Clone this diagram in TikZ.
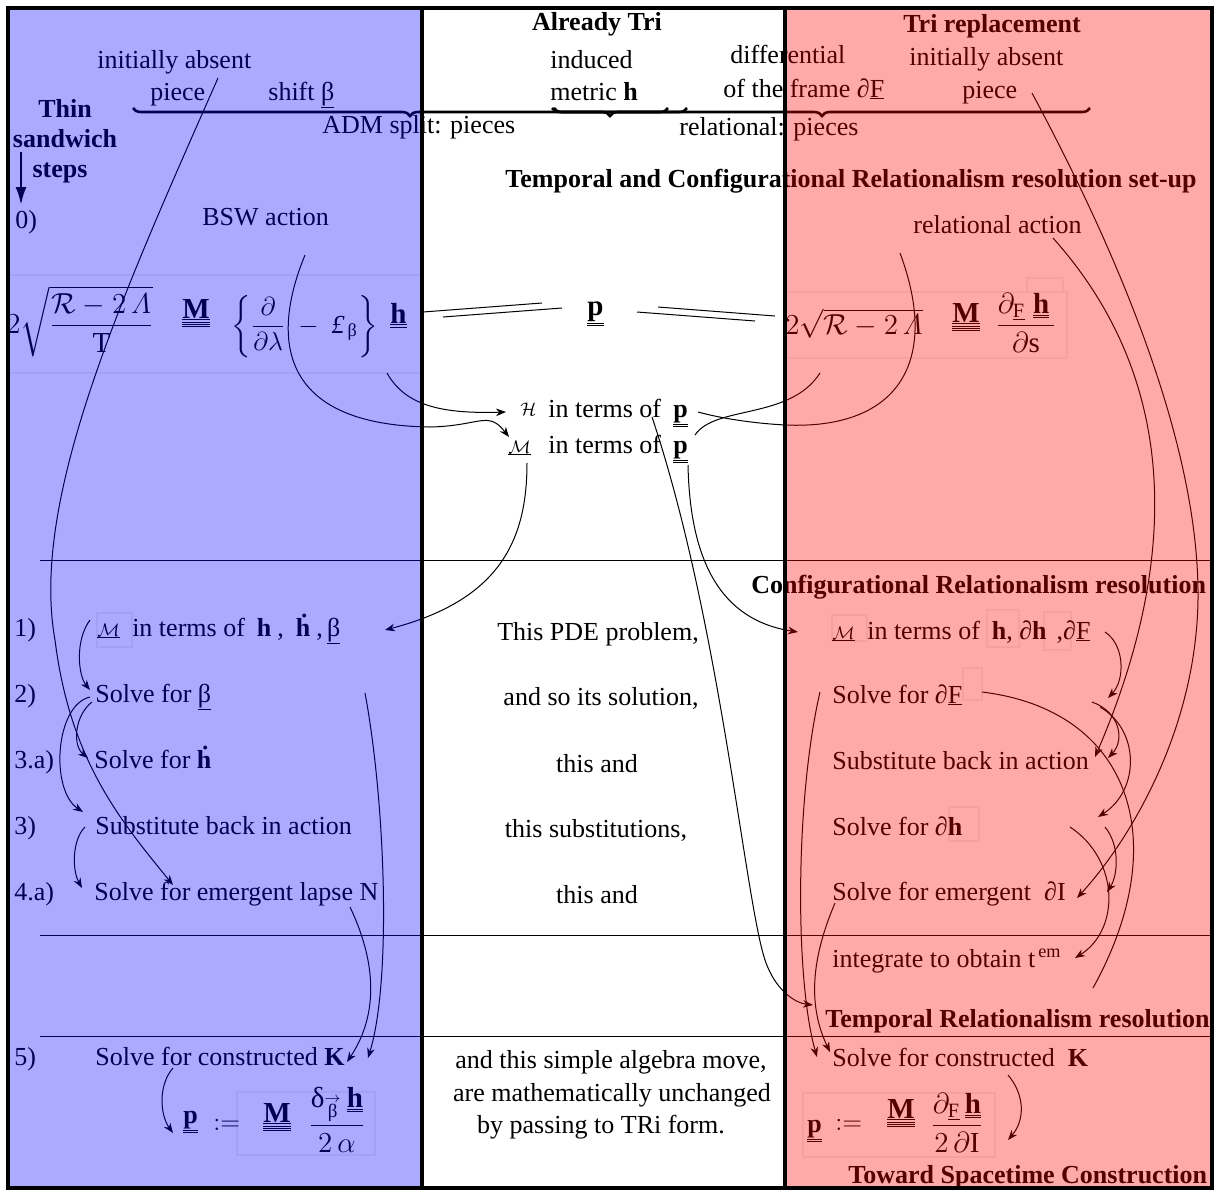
\RequirePackage{fix-cm}
\documentclass[tikz,border=0pt]{standalone}
\usepackage{amsmath,amssymb}
\usepackage{fontspec}
\setmainfont{Liberation Serif}
\usetikzlibrary{arrows.meta,decorations.pathreplacing}
\newcommand{\ulone}[1]{\vtop{\hbox{#1}\kern0.7pt\hrule height0.45pt}}
\newcommand{\ultwo}[1]{\vtop{\hbox{#1}\kern0.7pt\hrule height0.45pt\kern0.7pt\hrule height0.45pt}}
\newcommand{\ulfour}[1]{\vtop{\hbox{#1}\kern0.7pt\hrule height0.45pt\kern0.6pt\hrule height0.45pt\kern0.6pt\hrule height0.45pt\kern0.6pt\hrule height0.45pt}}
\newcommand{\tensh}{\ultwo{$\mathbf{h}$}}
\newcommand{\tensp}{\ultwo{$\mathbf{p}$}}
\newcommand{\tensM}{\ulfour{$\mathbf{M}$}}
\newcommand{\smallM}{\ulone{$\scriptstyle\mathcal{M}$}}
\newcommand{\vecbeta}{\vbox{\offinterlineskip\halign{\hfil##\hfil\cr$\scriptscriptstyle\rightarrow$\cr\noalign{\kern0.8pt}\fontsize{9.5}{10}\selectfont β\cr}}}
\tikzset{
  txt/.style={anchor=base west, inner sep=0pt},
  ctr/.style={anchor=base, inner sep=0pt},
  head/.style={txt, font=\fontsize{13}{15}\selectfont\bfseries},
  headc/.style={ctr, font=\fontsize{13}{15}\selectfont\bfseries},
  formula/.style={txt, font=\fontsize{14.5}{17}\selectfont},
  conn/.style={line width=0.5pt},
  arr/.style={conn, -{Stealth[length=5pt,width=3.8pt,inset=1.6pt]}},
  ghost/.style={draw=black, draw opacity=0.05, line width=0.6pt},
  rowrule/.style={line width=0.5pt},
  pbrace/.style={decorate, decoration={brace,mirror,amplitude=4pt}, line width=1.3pt},
  framerule/.style={line width=1.6pt},
  panel/.style={fill opacity=0.333}
}
\begin{document}
\begin{tikzpicture}[x=0.5pt,y=-0.5pt,font=\fontsize{13}{15}\selectfont]
  \useasboundingbox (0,0) rectangle (1217,1190);
  \fill[white] (0,0) rectangle (1217,1190);

  % faint boxes
  \draw[ghost] (8,275) -- (422,275) (8,373) -- (422,373);
  \draw[ghost] (97,613) rectangle (132,647);
  \draw[ghost] (237,1092) rectangle (375,1155);
  \draw[ghost] (785,292) rectangle (1067,358) (1027,278) rectangle (1063,292);
  \draw[ghost] (832,615) rectangle (867,641) (987,610) rectangle (1019,647) (1044,612) rectangle (1071,650);
  \draw[ghost] (963,668) rectangle (982,700) (949,807) rectangle (979,841);
  \draw[ghost] (803,1093) rectangle (995,1157);

  % row rules
  \draw[rowrule] (40,560) -- (1212,560);
  \draw[rowrule] (40,935) -- (1212,935);
  \draw[rowrule] (40,1036) -- (1212,1036);

  % headings and top labels
  \node[headc] (altri) at (597,30) {Already Tri};
  \node[headc] (trirep) at (992,32) {Tri replacement};
  \node[txt] (absL1) at (97,68) {initially absent};
  \node[txt] (absL2) at (150,100) {piece};
  \node[txt] (shift) at (268,100) {shift\ \ulone{β}};
  \node[headc] (thin) at (65,117) {Thin};
  \node[headc] (sandw) at (65,147) {sandwich};
  \node[headc] (steps) at (60,177) {steps};
  \node[txt] (step0) at (15,228) {0)};
  \node[txt] (bsw) at (202,225) {BSW action};
  \node[txt] (ind1) at (550,68) {induced};
  \node[txt] (ind2) at (550,100) {metric \textbf{h}};
  \node[txt] (diff1) at (730,63) {differential};
  \node[txt] (diff2) at (723,97) {of the frame ∂\ulone{F}};
  \node[txt] (absR1) at (909,65) {initially absent};
  \node[txt] (absR2) at (962,98) {piece};
  \node[txt] (adm) at (322,133) {ADM split: pieces};
  \node[txt] (rel) at (679,135) {relational: pieces};
  \node[head] (setup) at (505,187) {Temporal and Configurational Relationalism resolution set-up};
  \node[txt] (relact) at (913,233) {relational action};

  % braces
  \draw[pbrace] (133,108) -- (687,108);
  \draw[pbrace] (552,108) -- (668,108);
  \draw[pbrace] (554,108) -- (1090,108);

  % actions
  \node[formula] (bswroot) at (6,333) {$2\sqrt{\dfrac{\mathcal{R}-2\,\varLambda}{\mathrm{T}}}$};
  \node[formula] (bswM) at (182,318) {\tensM};
  \node[txt] (bswop) at (231,333) {$\left\{\dfrac{\partial}{\partial\lambda}\;-\;\text{\itshape £}_{\,\text{β}}\right\}$};
  \node[formula] (bswh) at (390,323) {\tensh};
  \node[formula] (pmid) at (587,315) {\tensp};
  \draw[line width=0.5pt] (423,312) -- (542,303) (443,317) -- (562,308);
  \draw[line width=0.5pt] (658,307) -- (775,316) (637,312) -- (755,321);
  \node[formula] (relroot) at (785,334) {$2\sqrt{\mathcal{R}-2\,\varLambda}$};
  \node[formula] (relM) at (952,322) {\tensM};
  \node[formula] (relfrac) at (995,333) {$\dfrac{\partial_{\ulone{$\scriptstyle\mathrm{F}$}}\;\tensh\,}{\partial\mathrm{s}}$};

  % constraints
  \node[txt] (hamH) at (520,415) {$\scriptstyle\mathcal{H}$};
  \node[txt] (hamtxt) at (548,417) {in terms of};
  \node[txt] (hamp) at (673,417) {\tensp};
  \node[txt] (momM) at (508,453) {\smallM};
  \node[txt] (momtxt) at (548,453) {in terms of};
  \node[txt] (momp) at (673,453) {\tensp};

  % thin sandwich column
  \node[txt] (n1) at (14,636) {1)};
  \node[txt] (n2) at (14,702) {2)};
  \node[txt] (n3a) at (14,768) {3.a)};
  \node[txt] (n3) at (14,834) {3)};
  \node[txt] (n4a) at (14,900) {4.a)};
  \node[txt] (n5) at (14,1065) {5)};
  \node[txt] (tsrow1) at (97,636) {\smallM\hspace{3pt} in terms of\hspace{6pt}\textbf{h}\hspace{3pt},\hspace{6pt}\textbf{ḣ}\hspace{3pt},\,\ulone{β}};
  \node[txt] (tsrow2) at (95,702) {Solve for \ulone{β}};
  \node[txt] (tsrow3a) at (94,768) {Solve for \textbf{ḣ}};
  \node[txt] (tsrow3) at (95,834) {Substitute back in action};
  \node[txt] (tsrow4a) at (94,900) {Solve for emergent lapse N};
  \node[txt] (tsrow5) at (95,1065) {Solve for constructed \textbf{K}};
  \node[txt] (tsp) at (183,1123) {\tensp};
  \node[txt] (tsdef) at (213,1130) {$:=$};
  \node[formula] (tsM) at (263,1122) {\tensM};
  \node[formula] (tsfrac) at (308,1133) {$\dfrac{\text{δ}_{\vecbeta}\,\tensh}{2\,\alpha}$};

  % middle column
  \node[ctr] (mid1) at (598,640) {This PDE problem,};
  \node[ctr] (mid2) at (601,705) {and so its solution,};
  \node[ctr] (mid3) at (597,772) {this and};
  \node[ctr] (mid4) at (596,837) {this substitutions,};
  \node[ctr] (mid5) at (597,903) {this and};
  \node[ctr] (mid6) at (611,1068) {and this simple algebra move,};
  \node[ctr] (mid7) at (612,1101) {are mathematically unchanged};
  \node[ctr] (mid8) at (601,1133) {by passing to TRi form.};

  % relational column
  \node[head] (crr) at (751,593) {Configurational Relationalism resolution};
  \node[txt] (trrow1) at (832,639) {\smallM\hspace{3pt} in terms of\hspace{6pt}\textbf{h}, ∂\textbf{h}\hspace{5pt},∂\ulone{F}};
  \node[txt] (trrow2) at (832,703) {Solve for ∂\ulone{F}};
  \node[txt] (trrow3) at (832,769) {Substitute back in action};
  \node[txt] (trrow4) at (832,835) {Solve for ∂\textbf{h}};
  \node[txt] (trrow5) at (832,900) {Solve for emergent\ \ ∂I};
  \node[txt] (trrow6) at (832,967) {integrate to obtain t$^{\,\mathrm{em}}$};
  \node[head] (trr) at (825,1027) {Temporal Relationalism resolution};
  \node[txt] (trrow7) at (832,1066) {Solve for constructed\ \ \textbf{K}};
  \node[txt] (trp) at (807,1132) {\tensp};
  \node[txt] (trdef) at (835,1130) {$:=$};
  \node[formula] (trM) at (887,1118) {\tensM};
  \node[formula] (trfrac) at (930,1133) {$\dfrac{\partial_{\ulone{$\scriptstyle\mathrm{F}$}}\,\tensh}{2\,\partial\mathrm{I}}$};
  \node[head] (toward) at (848,1183) {Toward Spacetime Construction};

  % connector ends
  \coordinate (stepA) at (21,152);
  \coordinate (stepB) at (21,205);
  \coordinate (absLout) at (218,78);
  \coordinate (lapseIn) at (173,885);
  \coordinate (bswOut) at (305,255);
  \coordinate (momIn) at (509,437);
  \coordinate (hOut) at (387,373);
  \coordinate (hamIn) at (506,412);
  \coordinate (momOut) at (527,463);
  \coordinate (tsr1In) at (385,630);
  \coordinate (tsr1Out) at (90,620);
  \coordinate (tsr2In) at (90,690);
  \coordinate (tsr2Out) at (92,702);
  \coordinate (tsr2Outb) at (90,697);
  \coordinate (tsr3aIn) at (88,758);
  \coordinate (tsr3In) at (83,812);
  \coordinate (tsr3Out) at (85,827);
  \coordinate (tsr4aIn) at (82,888);
  \coordinate (lapseOut) at (350,907);
  \coordinate (tsr2Right) at (365,693);
  \coordinate (tsKIn) at (347,1062);
  \coordinate (tsKInb) at (368,1058);
  \coordinate (tsKOut) at (173,1068);
  \coordinate (tspIn) at (173,1133);
  \coordinate (hamOut) at (652,417);
  \coordinate (trrIn) at (813,1005);
  \coordinate (mompOut) at (688,465);
  \coordinate (trr1In) at (798,632);
  \coordinate (relOut) at (900,253);
  \coordinate (hamEnd) at (698,412);
  \coordinate (relOutb) at (820,373);
  \coordinate (momEnd) at (695,435);
  \coordinate (absRout) at (1032,93);
  \coordinate (trr5In) at (1077,898);
  \coordinate (relactOut) at (1053,238);
  \coordinate (trr3In) at (1095,757);
  \coordinate (dFOut) at (1105,632);
  \coordinate (dFIn) at (1108,698);
  \coordinate (trr2Right) at (1092,702);
  \coordinate (trr3Inb) at (1108,758);
  \coordinate (trr2Rightb) at (1100,707);
  \coordinate (trr4In) at (1098,817);
  \coordinate (trr2End) at (982,692);
  \coordinate (lowEnd) at (1093,988);
  \coordinate (trr4Out) at (1070,827);
  \coordinate (trr6In) at (1075,958);
  \coordinate (trr4Outb) at (1105,827);
  \coordinate (trr5Inb) at (1107,892);
  \coordinate (trr2Left) at (820,692);
  \coordinate (trKIn) at (817,1057);
  \coordinate (trr5Left) at (835,903);
  \coordinate (trKInb) at (830,1052);
  \coordinate (trKOut) at (1008,1075);
  \coordinate (trpIn) at (1008,1140);

  % connectors
  \draw[line width=1.3pt, -{Latex[length=9pt,width=5.5pt]}] (stepA) -- (stepB);
  \draw[arr] (absLout) .. controls (120,300) and (30,500) .. (55,640) .. controls (70,760) and (120,820) .. (lapseIn);
  \draw[arr] (bswOut) .. controls (270,340) and (280,425) .. (430,427) .. controls (480,426) and (488,410) .. (momIn);
  \draw[arr] (hOut) .. controls (405,405) and (440,414) .. (hamIn);
  \draw[arr] (momOut) .. controls (527,540) and (500,600) .. (tsr1In);
  \draw[arr] (tsr1Out) .. controls (75,640) and (78,675) .. (tsr2In);
  \draw[arr] (tsr2Out) .. controls (75,715) and (72,745) .. (tsr3aIn);
  \draw[arr] (tsr2Outb) .. controls (55,705) and (50,790) .. (tsr3In);
  \draw[arr] (tsr3Out) .. controls (72,840) and (72,870) .. (tsr4aIn);
  \draw[arr] (lapseOut) .. controls (380,970) and (375,1020) .. (tsKIn);
  \draw[arr] (tsr2Right) .. controls (385,800) and (392,980) .. (tsKInb);
  \draw[arr] (tsKOut) .. controls (158,1085) and (160,1115) .. (tspIn);
  \draw[arr] (hamOut) .. controls (720,620) and (745,900) .. (765,960) .. controls (775,990) and (795,1003) .. (trrIn);
  \draw[arr] (mompOut) .. controls (690,560) and (720,620) .. (trr1In);
  \draw[conn] (relOut) .. controls (940,360) and (900,430) .. (785,425) .. controls (750,423) and (720,418) .. (hamEnd);
  \draw[conn] (relOutb) .. controls (790,420) and (715,405) .. (momEnd);
  \draw[arr] (absRout) .. controls (1100,220) and (1200,430) .. (1198,600) .. controls (1196,730) and (1130,840) .. (trr5In);
  \draw[arr] (relactOut) .. controls (1180,380) and (1180,560) .. (trr3In);
  \draw[arr] (dFOut) .. controls (1125,645) and (1125,680) .. (dFIn);
  \draw[arr] (trr2Right) .. controls (1120,712) and (1125,740) .. (trr3Inb);
  \draw[arr] (trr2Rightb) .. controls (1140,730) and (1140,790) .. (trr4In);
  \draw[conn] (trr2End) .. controls (1130,710) and (1175,840) .. (lowEnd);
  \draw[arr] (trr4Out) .. controls (1120,860) and (1120,930) .. (trr6In);
  \draw[arr] (trr4Outb) .. controls (1120,845) and (1118,875) .. (trr5Inb);
  \draw[arr] (trr2Left) .. controls (795,800) and (795,980) .. (trKIn);
  \draw[arr] (trr5Left) .. controls (815,950) and (805,1000) .. (trKInb);
  \draw[arr] (trKOut) .. controls (1025,1095) and (1025,1120) .. (trpIn);

  % coloured columns laid over the drawing
  \fill[blue, panel] (8,8) rectangle (422,1188);
  \fill[red, panel] (785,8) rectangle (1212,1188);
  \draw[framerule] (8,8) rectangle (1212,1188);
  \draw[framerule] (422,8) -- (422,1188);
  \draw[framerule] (785,8) -- (785,1188);
\end{tikzpicture}
\end{document}
